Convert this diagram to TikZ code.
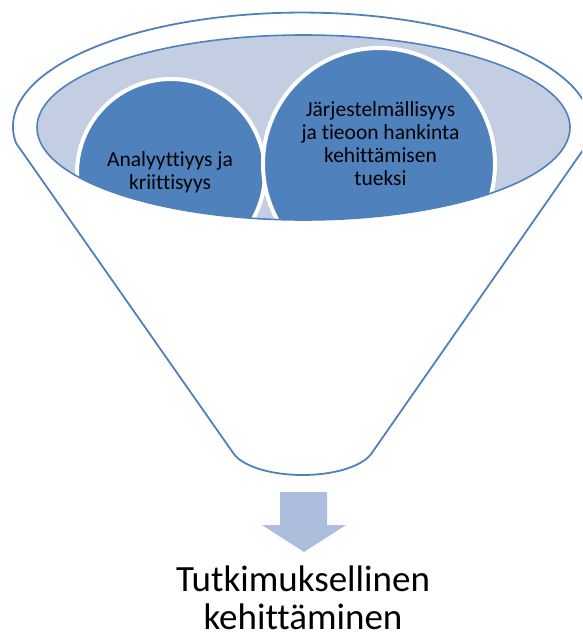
\documentclass[tikz,border=0pt]{standalone}
\usepackage{fontspec}
\setmainfont{Carlito}[Ligatures=NoCommon]
\definecolor{funnelblue}{RGB}{79,129,189}
\definecolor{bowlfill}{RGB}{196,206,226}
\definecolor{arrowfill}{RGB}{172,189,221}
\begin{document}
\begin{tikzpicture}[x=1pt,y=1pt,
  funnel/.style={draw=funnelblue, line width=1.8pt, fill=white, line join=round},
  bowl/.style={fill=bowlfill},
  bowlrim/.style={draw=funnelblue, line width=1.6pt},
  bubble/.style={circle, draw=white, line width=4pt, fill=funnelblue, inner sep=0pt},
  bubbletext/.style={align=center, text=black, font=\fontsize{21.5}{22.8}\selectfont},
  resulttext/.style={align=center, text=black, inner sep=0pt, font=\fontsize{37}{38}\selectfont},
  downarrow/.style={fill=arrowfill}
]
\useasboundingbox (0,0) rectangle (582,-637);
\clip (0,0) rectangle (582,-637);

% funnel body: wide rim on top, cone narrowing to a rounded bottom
\draw[funnel] (16,-143)
  arc[start angle=188.3, end angle=-8.3, x radius=289, y radius=114]
  -- (372.5,-452)
  arc[start angle=346.5, end angle=193.5, x radius=72, y radius=30]
  -- cycle;

% inner bowl
\path[bowl] (303.5,-127.5) ellipse[x radius=266.5, y radius=92.5];

% the two bubbles, cut off by the bowl
\begin{scope}
  \clip (303.5,-127.5) ellipse[x radius=266.5, y radius=92.5];
  \node[bubble, minimum size=188pt] (left) at (171,-173) {};
  \node[bubble, minimum size=232pt] (right) at (379,-164) {};
\end{scope}

\draw[bowlrim] (303.5,-127.5) ellipse[x radius=266.5, y radius=92.5];

\node[bubbletext] (lefttext) at (170,-172.5) {Analyyttiyys ja\\kriittisyys};
\node[bubbletext] (righttext) at (380.5,-143.5)
  {Järjestelmällisyys\\ja tieoon hankinta\\kehittämisen\\tueksi};

% block arrow below the funnel
\fill[downarrow] (280,-492) -- (327,-492) -- (327,-525) -- (346,-525)
  -- (304,-552) -- (262,-525) -- (280,-525) -- cycle;

\node[resulttext] (result) at (303,-598) {Tutkimuksellinen\\kehittäminen};
\end{tikzpicture}
\end{document}
